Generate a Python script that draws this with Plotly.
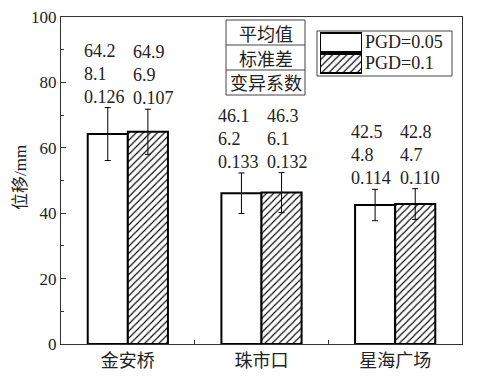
import plotly.graph_objects as go

categories = ["金安桥", "珠市口", "星海广场"]
series_names = ["PGD=0.05", "PGD=0.1"]
means = [[64.2, 46.1, 42.5], [64.9, 46.3, 42.8]]
sds = [[8.1, 6.2, 4.8], [6.9, 6.1, 4.7]]
cvs = [[0.126, 0.133, 0.114], [0.107, 0.132, 0.110]]
stat_labels = ["平均值", "标准差", "变异系数"]
y_ticks = [0, 20, 40, 60, 80, 100]

SERIF = "'Liberation Serif', 'Noto Sans CJK SC', serif"
CJK = "'Noto Sans CJK SC', 'Liberation Serif', sans-serif"

fig = go.Figure()
hatch = dict(shape="/", fgcolor="black", bgcolor="white", size=5, solidity=0.22)
patterns = [dict(shape=""), hatch]
for i, name in enumerate(series_names):
    fig.add_trace(go.Bar(
        x=categories, y=means[i], name=name,
        marker=dict(color="white", line=dict(color="black", width=2), pattern=patterns[i]),
        error_y=dict(type="data", array=sds[i], visible=True, color="black", thickness=1, width=3),
        showlegend=False,
    ))

# stats annotations above each bar
xshifts = [-46, 3]
line_offsets = [57, 34, 11]
for i in range(len(series_names)):
    for j, cat in enumerate(categories):
        top = means[i][j] + sds[i][j]
        texts = [f"{means[i][j]:.1f}", f"{sds[i][j]:.1f}", f"{cvs[i][j]:.3f}"]
        for t, off in zip(texts, line_offsets):
            fig.add_annotation(x=cat, y=top, xref="x", yref="y", text=t, showarrow=False,
                               xanchor="left", yanchor="middle", xshift=xshifts[i], yshift=off,
                               font=dict(family=SERIF, size=18, color="#222"))

# custom legend swatches via small subplot
fig.add_trace(go.Bar(
    y=series_names[::-1], x=[1, 1], orientation="h", xaxis="x2", yaxis="y2",
    marker=dict(color="white", line=dict(color="black", width=2),
                pattern=dict(shape=["/", ""], fgcolor="black", bgcolor="white", size=5, solidity=0.22)),
    showlegend=False, hoverinfo="skip", width=0.9,
))

# page has an 8px body margin; compensate so the plot lands where the reference has it
OFF = 8
W, H = 484 - OFF, 381 - OFF
PL, PR, PT, PB = 61, 462, 17, 344  # plot area in screen pixels
L, R, T, B = PL - OFF, (484 - PR), PT - OFF, (381 - PB)
pw, ph = PR - PL, PB - PT
def px(x):
    return (x - PL) / pw
def py(y):
    return (PB - y) / ph

shapes = []
shapes.append(dict(type="rect", xref="paper", yref="paper", x0=px(317), x1=px(452), y0=py(76), y1=py(31),
                   line=dict(color="#444", width=1)))
shapes.append(dict(type="rect", xref="paper", yref="paper", x0=px(226), x1=px(305), y0=py(95), y1=py(20),
                   line=dict(color="#444", width=1)))
for yy in [45, 70]:
    shapes.append(dict(type="line", xref="paper", yref="paper", x0=px(226), x1=px(305), y0=py(yy), y1=py(yy),
                       line=dict(color="#444", width=1)))

extra = []
for k, lab in enumerate(stat_labels):
    extra.append(dict(x=px(265.5), y=py(32.5 + 25 * k), xref="paper", yref="paper", text=lab,
                      showarrow=False, xanchor="center", yanchor="middle",
                      font=dict(family=CJK, size=18, color="#222")))
for k, name in enumerate(series_names):
    extra.append(dict(x=px(363), y=py(42 + 21 * k), xref="paper", yref="paper", text=name,
                      showarrow=False, xanchor="left", yanchor="middle",
                      font=dict(family=SERIF, size=18, color="#222")))
extra.append(dict(x=px(20), y=py(178), xref="paper", yref="paper", text="位移/mm", textangle=-90,
                  showarrow=False, xanchor="center", yanchor="middle", borderpad=0,
                  font=dict(family=SERIF, size=17, color="#222")))
for a in extra:
    fig.add_annotation(**a)

fig.update_layout(
    template="none",
    width=W, height=H,
    margin=dict(l=L, r=R, t=T, b=B, pad=0, autoexpand=False),
    paper_bgcolor="white", plot_bgcolor="white",
    barmode="group", bargap=0.4, bargroupgap=0,
    shapes=shapes,
    xaxis=dict(range=[-0.5, 2.5], showline=True, linecolor="#333", linewidth=1.2, mirror=True,
               ticks="inside", tickson="boundaries", ticklen=4, tickcolor="#333", automargin=False,
               tickfont=dict(family=CJK, size=18, color="#222"), showgrid=False, zeroline=False),
    yaxis=dict(range=[0, 100], tickvals=y_ticks, showline=True, linecolor="#333", linewidth=1.2, mirror=True,
               ticks="inside", ticklen=5, tickcolor="#333", automargin=False, ticklabeloverflow="allow",
               minor=dict(ticks="inside", ticklen=3, dtick=10, tickcolor="#333", showgrid=False),
               tickfont=dict(family=SERIF, size=17, color="#222"), showgrid=False, zeroline=False),
    xaxis2=dict(domain=[px(320), px(362)], anchor="y2", range=[0, 1], visible=False, fixedrange=True,
                showgrid=False, automargin=False),
    yaxis2=dict(domain=[py(74), py(32)], anchor="x2", visible=False, fixedrange=True,
                showgrid=False, automargin=False),
    font=dict(family=SERIF, color="#222"),
)

fig.write_html("out.html")
